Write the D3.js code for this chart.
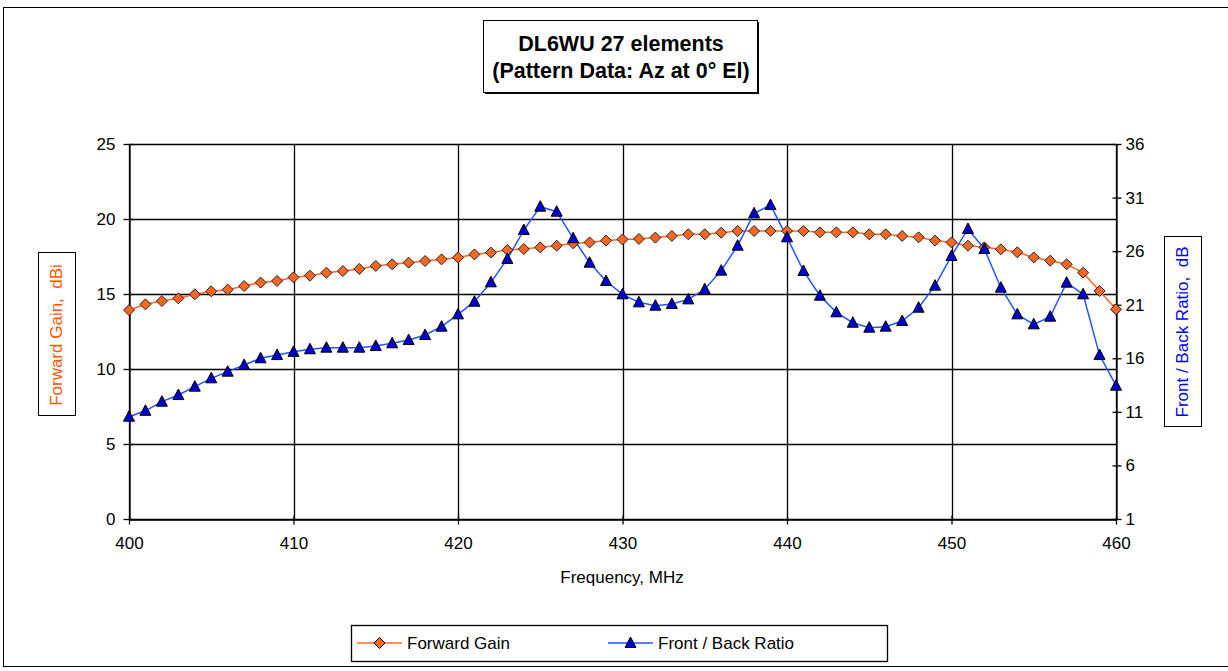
<!DOCTYPE html>
<html><head><meta charset="utf-8">
<script src="https://cdn.jsdelivr.net/npm/d3@7/dist/d3.min.js"></script>
<style>body{margin:0;background:#fff}svg{display:block;font-family:"Liberation Sans",Arial,sans-serif}</style>
</head><body><svg id="c" width="1228" height="671"></svg>
<script>
const frequencies = d3.range(400, 461, 1);
const forwardGain = [13.93,14.31,14.53,14.71,14.98,15.18,15.29,15.53,15.76,15.87,
  16.11,16.22,16.42,16.53,16.67,16.87,16.98,17.09,17.2,17.31,
  17.44,17.64,17.76,17.93,18.0,18.11,18.22,18.38,18.44,18.56,
  18.64,18.67,18.76,18.87,18.98,18.98,19.09,19.2,19.2,19.2,
  19.2,19.2,19.11,19.11,19.11,18.98,18.98,18.87,18.78,18.56,
  18.44,18.22,18.11,17.98,17.78,17.44,17.22,16.98,16.42,15.2,13.98];
const frontBack = [10.55,11.1,11.95,12.57,13.35,14.13,14.75,15.37,16.0,16.3,
  16.6,16.84,16.99,16.99,16.99,17.15,17.4,17.7,18.17,18.95,
  20.1,21.28,23.09,25.27,27.97,30.15,29.68,27.2,24.92,23.21,
  21.97,21.22,20.91,21.07,21.5,22.44,24.18,26.51,29.53,30.3,
  27.29,24.15,21.84,20.29,19.32,18.86,18.95,19.48,20.72,22.78,
  25.55,28.07,26.2,22.59,20.1,19.17,19.88,23.06,21.97,16.3,13.44];
const xTicks = [400,410,420,430,440,450,460];
const leftTicks = [0,5,10,15,20,25];
const rightTicks = [1,6,11,16,21,26,31,36];
const titleLines = ["DL6WU 27 elements","(Pattern Data: Az at 0\u00B0 El)"];
const seriesNames = ["Forward Gain","Front / Back Ratio"];

const svg = d3.select("#c");
const L=129,R=1116,T=144,B=519;
const FS=17;
const x = d3.scaleLinear().domain([400,460]).range([L,R]);
const yL = d3.scaleLinear().domain([0,25]).range([B,T]);
const yR = d3.scaleLinear().domain([1,36]).range([B,T]);

// outer frame
svg.append("rect").attr("x",3.5).attr("y",7.5).attr("width",1240).attr("height",659)
  .attr("fill","none").attr("stroke","#000").attr("stroke-width",1);

// title box
svg.append("rect").attr("x",483.5).attr("y",20.5).attr("width",274).attr("height",72)
  .attr("fill","#fff").attr("stroke","#000").attr("stroke-width",1);
svg.append("line").attr("x1",485).attr("x2",759).attr("y1",93.5).attr("y2",93.5).attr("stroke","#000");
svg.append("line").attr("x1",758.5).attr("x2",758.5).attr("y1",22).attr("y2",94).attr("stroke","#000");
titleLines.forEach((t,i)=>svg.append("text").attr("x",621).attr("y",51+i*27)
  .attr("text-anchor","middle").attr("font-weight","bold").attr("font-size",21.5).text(t));

// gridlines
const g = svg.append("g");
g.selectAll(".hg").data(leftTicks).join("line")
  .attr("x1",L).attr("x2",R).attr("y1",d=>Math.round(yL(d))+0.5).attr("y2",d=>Math.round(yL(d))+0.5)
  .attr("stroke","#000").attr("stroke-width",1.3);
g.selectAll(".vg").data(xTicks).join("line")
  .attr("y1",T).attr("y2",B).attr("x1",d=>Math.round(x(d))+0.5).attr("x2",d=>Math.round(x(d))+0.5)
  .attr("stroke","#000").attr("stroke-width",1.3);

// axes
const axL = d3.axisLeft(yL).tickValues(leftTicks).tickSizeInner(6).tickSizeOuter(0).tickPadding(8);
const axR = d3.axisRight(yR).tickValues(rightTicks).tickSizeInner(5).tickSizeOuter(0).tickPadding(4);
const axB = d3.axisBottom(x).tickValues(xTicks).tickSizeInner(5).tickSizeOuter(0).tickPadding(12);
function style(sel){sel.selectAll("text").attr("font-size",FS).attr("fill","#000").attr("font-family","Liberation Sans, Arial, sans-serif");
  sel.selectAll("line,path").attr("stroke","#000").attr("stroke-width",1.3);}
svg.append("g").attr("transform",`translate(${L+0.5},0)`).call(axL).call(style)
  .selectAll(".tick line").attr("x2",-6).attr("x1",4);
svg.append("g").attr("transform",`translate(${R+0.5},0)`).call(axR).call(style)
  .selectAll(".tick line").attr("x1",-4).attr("x2",5);
svg.append("g").attr("transform",`translate(0,${B+0.5})`).call(axB).call(style)
  .selectAll(".tick line").attr("y1",-4).attr("y2",5);

svg.append("text").attr("x",622).attr("y",583).attr("text-anchor","middle").attr("font-size",FS).text("Frequency, MHz");

// axis titles
svg.append("rect").attr("x",38.5).attr("y",252.5).attr("width",37).attr("height",163).attr("fill","#fff").attr("stroke","#000");
svg.append("text").attr("transform","translate(62,335) rotate(-90)").attr("text-anchor","middle")
  .attr("font-size",FS).attr("fill","#FF5500").attr("xml:space","preserve").text("Forward Gain,  dBi");
svg.append("rect").attr("x",1164.5).attr("y",236.5).attr("width",37).attr("height",190).attr("fill","#fff").attr("stroke","#000");
svg.append("text").attr("transform","translate(1188,332) rotate(-90)").attr("text-anchor","middle")
  .attr("font-size",FS).attr("fill","#0000FF").attr("xml:space","preserve").text("Front / Back Ratio,  dB");

// series
const gainPts = frequencies.map((f,i)=>[f,forwardGain[i]]);
const fbPts = frequencies.map((f,i)=>[f,frontBack[i]]);
const orange="#FF6622", blueLine="#2255FF", blueFill="#0000CC";
svg.append("path").datum(gainPts).attr("fill","none").attr("stroke",orange).attr("stroke-width",1.5)
  .attr("d",d3.line().x(d=>x(d[0])).y(d=>yL(d[1])));
svg.append("path").datum(fbPts).attr("fill","none").attr("stroke",blueLine).attr("stroke-width",1.5)
  .attr("d",d3.line().x(d=>x(d[0])).y(d=>yR(d[1])));
const diamond = "M0,-5.5L5.5,0L0,5.5L-5.5,0Z";
const tri = "M0,-6L5.5,4.5L-5.5,4.5Z";
svg.append("g").selectAll("path").data(gainPts).join("path")
  .attr("transform",d=>`translate(${x(d[0])},${yL(d[1])})`).attr("d",diamond)
  .attr("fill",orange).attr("stroke","#222").attr("stroke-width",1);
svg.append("g").selectAll("path").data(fbPts).join("path")
  .attr("transform",d=>`translate(${x(d[0])},${yR(d[1])})`).attr("d",tri)
  .attr("fill",blueFill).attr("stroke","#000").attr("stroke-width",1);

// legend
svg.append("rect").attr("x",351.5).attr("y",625.5).attr("width",536).attr("height",36).attr("fill","#fff").attr("stroke","#000").attr("stroke-width",1.3);
const legY=643;
const leg = [{x1:357,x2:402,name:seriesNames[0],c:orange,m:diamond,f:orange},
             {x1:608,x2:653,name:seriesNames[1],c:blueLine,m:tri,f:blueFill}];
leg.forEach(l=>{
  svg.append("line").attr("x1",l.x1).attr("x2",l.x2).attr("y1",legY).attr("y2",legY).attr("stroke",l.c).attr("stroke-width",1.5);
  svg.append("path").attr("d",l.m).attr("transform",`translate(${(l.x1+l.x2)/2},${legY})`).attr("fill",l.f).attr("stroke","#000");
  svg.append("text").attr("x",l.x2+5).attr("y",legY+6).attr("font-size",FS).text(l.name);
});
</script></body></html>
